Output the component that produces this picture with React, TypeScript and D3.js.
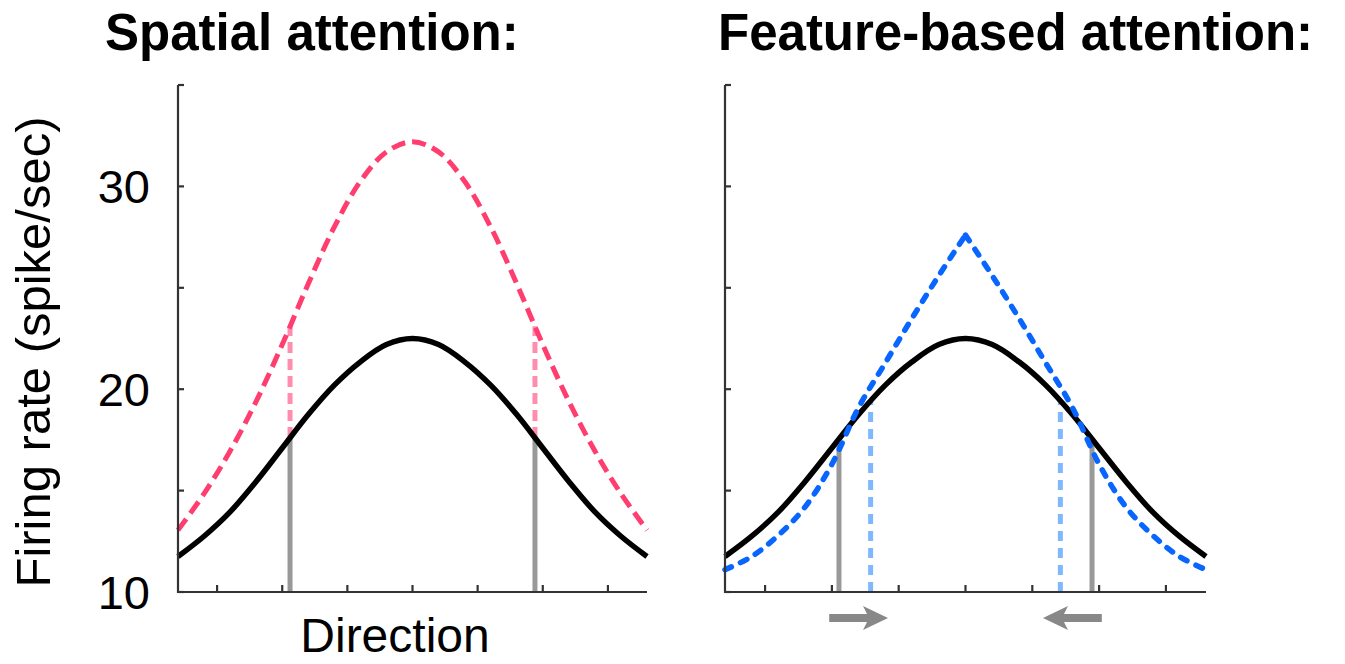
import React from "react";
import * as d3 from "d3";

// tuning curves (direction in deg, rate in spike/sec)
const directions = [-180, -160, -140, -120, -100, -80, -60, -40, -20, 0, 20, 40, 60, 80, 100, 120, 140, 160, 180];
const baselineRate = [11.75, 12.75, 13.95, 15.45, 17.1, 18.75, 20.2, 21.35, 22.2, 22.5, 22.2, 21.35, 20.2, 18.75, 17.1, 15.45, 13.95, 12.75, 11.75];
const spatialRate = [13.05, 14.85, 16.95, 19.4, 22.2, 25.2, 28.0, 30.25, 31.7, 32.2, 31.7, 30.25, 28.0, 25.2, 22.2, 19.4, 16.95, 14.85, 13.05];
const featureRate = [11.1, 11.75, 12.8, 14.2, 16.3, 19.1, 21.3, 23.5, 25.6, 27.6, 25.6, 23.5, 21.3, 19.1, 16.3, 14.2, 12.8, 11.75, 11.1];

// stimulus directions marked with vertical lines
const spatialProbeDirs = [-94, 94];
const featureProbeDirs = [-94.7, 94.7];
const featureShiftDirs = [-71, 71];
// arrows under the right panel: [from, to]
const shiftArrows = [[-102, -58], [102, 58]];

const yTicks = [10, 15, 20, 25, 30, 35];
const yLabels = [10, 20, 30];
const xTicks = [-150, -100, -50, 0, 50, 100, 150];

const titles = ["Spatial attention:", "Feature-based attention:"];
const yTitle = "Firing rate (spike/sec)";
const xTitle = "Direction";

const FONT = "'Liberation Sans', Arial, sans-serif";

const y = d3.scaleLinear().domain([10, 35]).range([592, 85]);

const rateAt = (vals: number[]) => d3.scaleLinear().domain(directions).range(vals);

function Axes({ x }: { x: d3.ScaleLinear<number, number> }) {
    const [x0, x1] = x.range();
    return <g stroke="#333" strokeWidth={2.2} fill="none">
        <path d={`M${x0},${y(35)}V${y(10)}H${x1}`} />
        {yTicks.map(t => <line key={"y" + t} x1={x0} x2={x0 + 6} y1={y(t)} y2={y(t)} />)}
        {xTicks.map(t => <line key={"x" + t} x1={x(t)} x2={x(t)} y1={y(10)} y2={y(10) - 7} />)}
    </g>;
}

function curvePath(x: d3.ScaleLinear<number, number>, vals: number[], from = 0, to = directions.length) {
    const line = d3.line<number>()
        .x((d, i) => x(directions[from + i]))
        .y(d => y(d))
        .curve(d3.curveCatmullRom.alpha(0.5));
    return line(vals.slice(from, to)) || "";
}

function SpatialPanel() {
    const x = d3.scaleLinear().domain([-180, 180]).range([178, 647]);
    const base = rateAt(baselineRate);
    const att = rateAt(spatialRate);
    return <g>
        {spatialProbeDirs.map(d => <g key={d}>
            <line x1={x(d)} x2={x(d)} y1={y(10)} y2={y(base(d))} stroke="#999" strokeWidth={5} />
            <line x1={x(d)} x2={x(d)} y1={y(base(d))} y2={y(att(d))} stroke="#ff8db0" strokeWidth={5} strokeDasharray="11 6" />
        </g>)}
        <path d={curvePath(x, spatialRate)} fill="none" stroke="#ff3d6e" strokeWidth={5} strokeDasharray="14 7" />
        <path d={curvePath(x, baselineRate)} fill="none" stroke="#000" strokeWidth={5.5} />
        <Axes x={x} />
    </g>;
}

function FeaturePanel() {
    const x = d3.scaleLinear().domain([-180, 180]).range([725, 1206]);
    const base = rateAt(baselineRate);
    const mid = directions.indexOf(0);
    return <g>
        {featureProbeDirs.map(d => <line key={d} x1={x(d)} x2={x(d)} y1={y(10)} y2={y(base(d))} stroke="#999" strokeWidth={5} />)}
        {featureShiftDirs.map(d => <line key={d} x1={x(d)} x2={x(d)} y1={y(10)} y2={y(base(d))} stroke="#80b8ff" strokeWidth={5} strokeDasharray="10 7" />)}
        <path d={curvePath(x, baselineRate)} fill="none" stroke="#000" strokeWidth={5.5} />
        {/* two halves so the peak stays pointed */}
        <path d={curvePath(x, featureRate, 0, mid + 1) + curvePath(x, featureRate, mid, directions.length)}
            fill="none" stroke="#0866ff" strokeWidth={5.5} strokeDasharray="7 10" strokeLinecap="round" />
        <Axes x={x} />
        {shiftArrows.map(([a, b]) => {
            const xa = x(a), xb = x(b), cy = 618;
            const s = Math.sign(xb - xa);
            const back = xb - s * 25, notch = xb - s * 19;
            return <g key={a} fill="#888">
                <rect x={Math.min(xa, notch)} y={cy - 4} width={Math.abs(notch - xa)} height={8} />
                <path d={`M${xb},${cy}L${back},${cy - 12}L${notch},${cy}L${back},${cy + 12}Z`} />
            </g>;
        })}
    </g>;
}

export default function App() {
    return <div style={{ position: "absolute", left: 0, top: 0 }}>
        <svg width={1345} height={664} style={{ display: "block", fontFamily: FONT }}>
            <rect width={1345} height={664} fill="#fff" />
            <text x={105} y={50} fontSize={51} fontWeight="bold">{titles[0]}</text>
            <text x={718} y={50} fontSize={51} fontWeight="bold">{titles[1]}</text>
            <SpatialPanel />
            <FeaturePanel />
            {yLabels.map(t => <text key={t} x={150} y={y(t)} dy="0.36em" fontSize={47} textAnchor="end">{t}</text>)}
            <text transform={`translate(50,352) rotate(-90)`} fontSize={49} textAnchor="middle">{yTitle}</text>
            <text x={395} y={652} fontSize={48} textAnchor="middle">{xTitle}</text>
        </svg>
    </div>;
}
